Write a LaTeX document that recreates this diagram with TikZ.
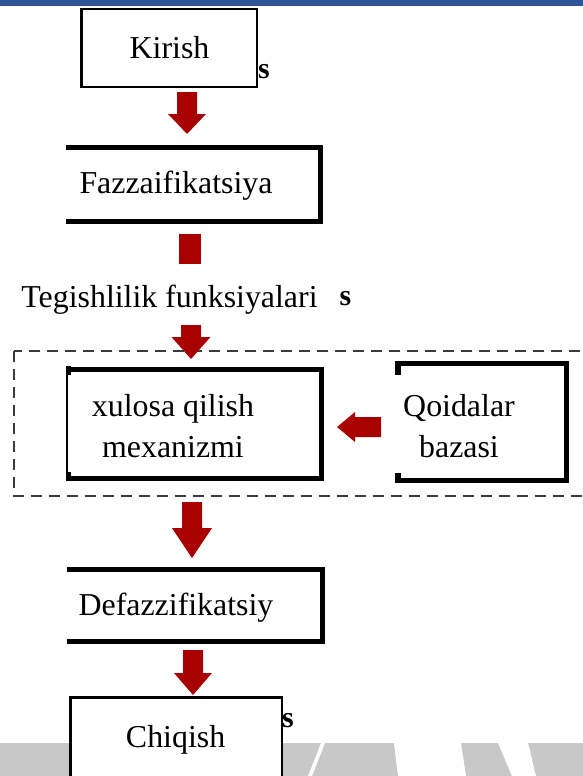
\documentclass[tikz,border=0pt]{standalone}
\usepackage{fontspec}
\setmainfont{Liberation Serif}
\definecolor{arrowredc}{RGB}{168,0,0}
\definecolor{barblue}{RGB}{47,84,150}
\definecolor{bandgray}{RGB}{200,200,200}
\definecolor{framegray}{RGB}{60,60,60}
\tikzset{
  lbl/.style={inner sep=0pt, anchor=base, font=\fontsize{32}{38}\selectfont},
  stray/.style={inner sep=0pt, anchor=base, font=\fontsize{30}{36}\selectfont\bfseries},
  thickedge/.style={draw=black, line width=5bp, line join=miter, line cap=butt},
  thinbox/.style={draw=black, line width=2.5bp, fill=white},
  redfill/.style={fill=arrowredc, draw=none},
  dashframe/.style={draw=framegray, line width=1.6bp, dash pattern=on 11bp off 7bp},
  pics/downarr/.style n args={3}{code={
    \fill[redfill] (-10,-#1) -- (10,-#1) -- (10,-#2) -- (#3,-#2) -- (0,0) -- (-#3,-#2) -- (-10,-#2) -- cycle;}},
}
\begin{document}
\begin{tikzpicture}[x=1bp,y=-1bp]
\useasboundingbox (0,0) rectangle (583,776);
\begin{scope}
\clip (0,0) rectangle (583,776);
% background
\fill[white] (0,0) rectangle (583,776);
\fill[barblue] (0,0) rectangle (583,6);
\fill[bandgray] (0,743) rectangle (583,776);
\fill[white] (321,743) -- (325,743) -- (312,776) -- (308,776) -- cycle;
\fill[white] (394,743) -- (461,743) -- (466,776) -- (398,776) -- cycle;
\fill[white] (498,743) -- (528,743) -- (536,776) -- (512,776) -- cycle;

% stray glyphs
\node[stray] (s1) at (264,78) {s};
\node[stray] (s2) at (345.5,305) {s};
\node[stray] (s3) at (288,727) {s};

% Kirish
\draw[thinbox] (81.25,9.25) rectangle (256.75,86.75);
\coordinate (kirish) at (169,48);
\node[lbl] (kirishT) at (169.5,59) {Kirish};

% arrow 1
\pic at (187,134) {downarr={42}{20}{19}};

% Fazzaifikatsiya
\draw[thickedge] (66,147.5) -- (320.5,147.5) -- (320.5,221.5) -- (66,221.5);
\node[lbl] (fazzT) at (176,193) {Fazzaifikatsiya};

% arrow 2 (stub)
\fill[redfill] (179,234) rectangle (201,264);

% membership functions
\node[lbl] (tegT) at (169.5,307) {Tegishlilik funksiyalari};

% dashed frame
\draw[dashframe] (13.7,350.7) rectangle (620,495.7);

% arrow 3
\pic at (191,359) {downarr={34}{22}{19.5}};

% xulosa qilish mexanizmi
\draw[thickedge] (66,369) -- (321.5,369) -- (321.5,478.5) -- (66,478.5);
\draw[black, line width=1.5bp] (66.75,366) -- (66.75,481);
\fill[black] (66,366) rectangle (71,375);
\fill[black] (66,472) rectangle (71,481);
\node[lbl] (xul1) at (173,416) {xulosa qilish};
\node[lbl] (xul2) at (173,457) {mexanizmi};

% Qoidalar bazasi
\draw[thickedge] (395,363.5) -- (566.5,363.5) -- (566.5,480.5) -- (395,480.5);
\fill[black] (395,361) rectangle (401,375);
\fill[black] (395,473) rectangle (401,483);
\node[lbl] (qoi1) at (459,416) {Qoidalar};
\node[lbl] (qoi2) at (459,457) {bazasi};

% left arrow
\fill[redfill] (381,417) -- (355,417) -- (355,412) -- (337,427) -- (355,442) -- (355,437) -- (381,437) -- cycle;

% arrow 4
\pic at (192,558) {downarr={56}{30}{20}};

% Defazzifikatsiy
\draw[thickedge] (67,569) -- (322.5,569) -- (322.5,641.5) -- (67,641.5);
\node[lbl] (defT) at (176,615) {Defazzifikatsiy};

% arrow 5
\pic at (193,695) {downarr={45}{22}{19}};

% Chiqish
\draw[thinbox] (70.25,697.25) rectangle (281.75,790);
\node[lbl] (chiT) at (175.6,747) {Chiqish};
\end{scope}
\end{tikzpicture}
\end{document}
